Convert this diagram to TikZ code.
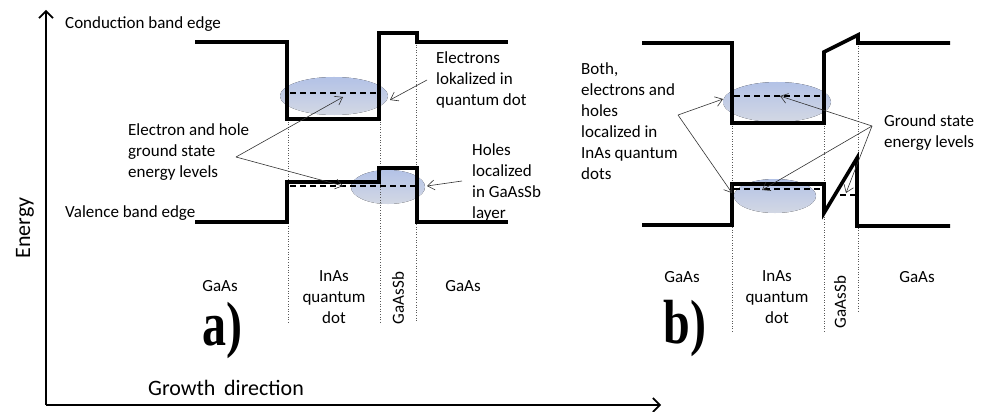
\documentclass[tikz,border=0pt]{standalone}
\usepackage{fontspec}
\setmainfont{Carlito}
\newfontfamily\panelfont{Liberation Serif}
\usetikzlibrary{arrows.meta}
\definecolor{elltop}{HTML}{B3C2E6}
\definecolor{ellbot}{HTML}{D3D8E4}
\definecolor{arrowgray}{HTML}{333333}
\begin{document}
\begin{tikzpicture}[x=1pt,y=-1pt,
  band/.style={line width=3.6pt, line join=miter},
  level/.style={line width=1.3pt, dash pattern=on 6pt off 4pt},
  guide/.style={line width=0.6pt, dotted, gray!70!black},
  cloud/.style={top color=elltop, bottom color=ellbot, draw=none},
  axis/.style={line width=1.6pt, -{Straight Barb[length=7pt,width=14pt,line width=1.6pt]}},
  pointer/.style={line width=0.6pt, draw=arrowgray, -{Straight Barb[length=7pt,width=10pt,line width=0.6pt]}},
  lbl/.style={inner sep=0pt, font=\fontsize{17}{21}\selectfont},
  axlbl/.style={inner sep=0pt, font=\fontsize{22}{24}\selectfont},
  tag/.style={inner sep=0pt, font=\panelfont\bfseries\fontsize{48}{48}\selectfont}
]
\useasboundingbox (0,0) rectangle (986,412);

% ---------- clouds (behind everything) ----------
\fill[cloud] (334,96) ellipse [x radius=54, y radius=19];
\fill[cloud] (388,187) ellipse [x radius=37, y radius=17];
\fill[cloud] (777,102) ellipse [x radius=54, y radius=20];
\fill[cloud] (775,196) ellipse [x radius=41, y radius=17];

% ---------- axes ----------
\coordinate (O) at (46,405);
\coordinate (Ytip) at (46,10);
\coordinate (Xtip) at (661,405);
\draw[axis] (O) -- (Ytip);
\draw[axis] (O) -- (Xtip);
\node[axlbl, rotate=90] (energy) at (25,228) {Energy};
\node[axlbl] (growth) at (226,388) {Growth\ \,direction};

% ---------- guides panel a ----------
\draw[guide] (288.5,119) -- (288.5,322);
\draw[guide] (380,119) -- (380,322);
\draw[guide] (416.5,42) -- (416.5,322);
% ---------- guides panel b ----------
\draw[guide] (732.5,123) -- (732.5,332);
\draw[guide] (824,123) -- (824,332);
\draw[guide] (858.5,43) -- (858.5,313);

% ---------- bands panel a ----------
\draw[band] (195,42) -- (287,42) -- (287,119) -- (379,119) -- (379,33) -- (417,33) -- (417,42) -- (508,42);
\draw[band] (195,222) -- (287,222) -- (287,182) -- (379,182) -- (379,168) -- (417,168) -- (417,222) -- (508,222);
\draw[level] (290,93) -- (377,93);
\draw[level] (290,186) -- (416,186);

% ---------- bands panel b ----------
\draw[band] (642,43) -- (732,43) -- (732,123) -- (824,123) -- (824,52) -- (858,35) -- (858,43) -- (950,43);
\draw[band] (642,225) -- (732,225) -- (732,184) -- (824,184) -- (824,213) -- (857,158) -- (857,226) -- (950,226);
\draw[level] (734,96) -- (822,96);
\draw[level] (734,189) -- (822,189);
\draw[level] (840,195) -- (855,195);

% ---------- labels panel a ----------
\node[lbl, anchor=west] (cbe) at (65,24) {Conduction band edge};
\node[lbl, anchor=west] (vbe) at (65,213) {Valence band edge};
\node[lbl, anchor=west, align=left] (ehlev) at (128,152) {Electron and hole\\ground state\\energy levels};
\node[lbl, anchor=west, align=left] (elok) at (436,80) {Electrons\\lokalized in\\quantum dot};
\node[lbl, anchor=west, align=left] (hlok) at (472,182) {Holes\\localized\\in GaAsSb\\layer};

\coordinate (ehsrc) at (236,157);
\coordinate (aCBlev) at (343,97);
\coordinate (aVBlev) at (343,186);
\coordinate (esrc) at (427,80);
\coordinate (edst) at (390,100);
\coordinate (hsrc) at (462,181);
\coordinate (hdst) at (427,186);
\draw[pointer] (ehsrc) -- (aCBlev);
\draw[pointer] (ehsrc) -- (aVBlev);
\draw[pointer] (esrc) -- (edst);
\draw[pointer] (hsrc) -- (hdst);

\node[lbl] (gaasA1) at (220,286) {GaAs};
\node[lbl, align=center] (inasA) at (334,297) {InAs\\quantum\\dot};
\node[lbl, rotate=90] (gasbA) at (398,298) {GaAsSb};
\node[lbl] (gaasA2) at (463,286) {GaAs};
\node[tag] (tagA) at (222,330) {\scalebox{1}[1.3]{a)}};

% ---------- labels panel b ----------
\node[lbl, anchor=west, align=left] (both) at (581,121) {Both,\\electrons and\\holes\\localized in\\InAs quantum\\dots};
\node[lbl, anchor=west, align=left] (gsl) at (884,133) {Ground state\\energy levels};

\coordinate (bsrc) at (678,115);
\coordinate (bCBin) at (723,99);
\coordinate (bVBin) at (732,193);
\coordinate (gsrc) at (872,126);
\coordinate (gCB) at (780,96);
\coordinate (gVB) at (762,190);
\coordinate (gW) at (846,193);
\draw[pointer] (bsrc) -- (bCBin);
\draw[pointer] (bsrc) -- (bVBin);
\draw[pointer] (gsrc) -- (gCB);
\draw[pointer] (gsrc) -- (gVB);
\draw[pointer] (gsrc) -- (gW);

\node[lbl] (gaasB1) at (682,277) {GaAs};
\node[lbl, align=center] (inasB) at (777,297) {InAs\\quantum\\dot};
\node[lbl, rotate=90] (gasbB) at (840,302) {GaAsSb};
\node[lbl] (gaasB2) at (917,277) {GaAs};
\node[tag] (tagB) at (685,328) {\scalebox{1}[1.3]{b)}};
\end{tikzpicture}
\end{document}
